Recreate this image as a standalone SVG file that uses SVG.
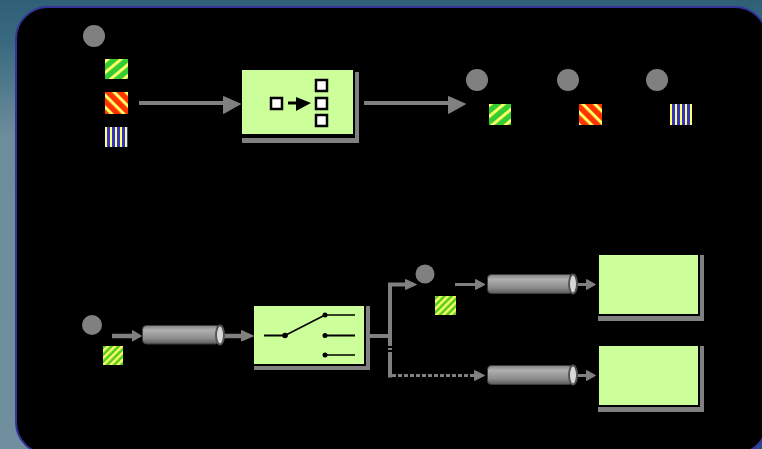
<svg xmlns="http://www.w3.org/2000/svg" width="762" height="449" viewBox="0 0 762 449">
<style>
.shadow{fill:#808080}
.box{fill:#ccff99}
.dot{fill:#808080}
.cable{fill:none;stroke:#808080;stroke-width:4}
.thin{fill:none;stroke:#808080;stroke-width:3}
.wide{fill:none;stroke:#808080;stroke-width:4.500}
.head{fill:#808080;stroke:#808080;stroke-width:1;stroke-linejoin:round}
.ink{fill:none;stroke:#000;stroke-width:1.500}
.inkdot{fill:#000}
.cell{fill:#fff;stroke:#000;stroke-width:2.500}
.tube{fill:url(#tube);stroke:#3c3c3c;stroke-width:1}
.cap{fill:#d8d8d8;stroke:#555;stroke-width:2}
</style>
<defs>
<linearGradient id="bg" x1="0" y1="0" x2="0" y2="1"><stop offset="0" stop-color="#2f6078"/><stop offset="0.1" stop-color="#3a6a80"/><stop offset="0.3" stop-color="#6d8c9c"/><stop offset="1" stop-color="#6f8f9f"/></linearGradient>
<linearGradient id="tube" x1="0" y1="0" x2="0" y2="1"><stop offset="0" stop-color="#808080"/><stop offset="0.25" stop-color="#b0b0b0"/><stop offset="0.7" stop-color="#8c8c8c"/><stop offset="1" stop-color="#5a5a5a"/></linearGradient>
<pattern id="green" width="8.500" height="8.500" patternUnits="userSpaceOnUse" patternTransform="rotate(-40 105 59)"><rect width="8.500" height="8.500" fill="#33cc33"/><rect width="8.500" height="3" fill="#ffff66"/></pattern>
<pattern id="red" width="8.500" height="8.500" patternUnits="userSpaceOnUse" patternTransform="rotate(45)"><rect width="8.500" height="8.500" fill="#ff3300"/><rect width="8.500" height="3" fill="#ffff66"/></pattern>
<pattern id="blue" width="5" height="5" patternUnits="userSpaceOnUse"><rect width="5" height="5" fill="#3333cc"/><rect width="2" height="5" fill="#ffff66"/></pattern>
<pattern id="fine" width="5" height="5" patternUnits="userSpaceOnUse" patternTransform="rotate(-45)"><rect width="5" height="5" fill="#55cc22"/><rect width="5" height="2.400" fill="#ffff66"/></pattern>
</defs>
<rect width="762" height="449" fill="url(#bg)"/>
<rect x="740" y="425" width="22" height="24" fill="#2f4a8c"/>
<rect x="16" y="7" width="751" height="447" rx="32" ry="32" fill="#000" stroke="#333399" stroke-width="2"/>
<g id="connectors">
<path class="cable" d="M139 103H226"/><path class="head" d="M223.500 96.500L240.500 104L223.500 113.500Z"/>
<path class="cable" d="M364 103H450"/><path class="head" d="M448.500 96.500L465.500 104L448.500 113.500Z"/>
<path class="wide" d="M112 336H134"/><path class="head" d="M132.500 330.500L141.500 336L132.500 341Z"/>
<path class="wide" d="M224 336H244"/><path class="head" d="M241.500 330.500L253.500 336L241.500 341Z"/>
<path class="cable" d="M370 336H390"/>
<path class="cable" d="M390 346V284.500H407"/><path class="head" d="M405.500 279.500L416.500 284.500L405.500 289.500Z"/>
<path class="cable" d="M390 348V350"/>
<path class="cable" d="M390 352V377.500"/>
<path class="thin" stroke-dasharray="4 2" d="M392 375.500H476"/><path class="head" d="M474.500 370.500L484.500 375.500L474.500 380.500Z"/>
<path class="thin" d="M455 284.500H476"/><path class="head" d="M475.500 279.500L485 284.500L475.500 289.500Z"/>
<path class="thin" d="M578 284.500H588"/><path class="head" d="M586.500 279.500L595.500 284.500L586.500 289.500Z"/>
<path class="thin" d="M578 375.500H588"/><path class="head" d="M586.500 370.500L595.500 375.500L586.500 380.500Z"/>
</g>
<g id="msg-in"><circle class="dot" cx="94" cy="36" r="11"/>
<rect x="105" y="59" width="23" height="20" fill="url(#green)"/>
<rect x="105" y="92" width="23" height="22" fill="url(#red)"/>
<rect x="105" y="127" width="23" height="20" fill="url(#blue)"/></g>
<g id="resequencer"><path class="shadow" d="M355 72H359V143H242V138H355Z"/>
<rect class="box" x="242" y="70" width="111" height="64"/>
<rect class="cell" x="271" y="98" width="11" height="11"/>
<rect class="cell" x="316" y="80" width="11" height="11"/>
<rect class="cell" x="316" y="98" width="11" height="11"/>
<rect class="cell" x="316" y="115" width="11" height="11"/>
<path class="ink" style="stroke-width:3" d="M288 103H298"/><path class="inkdot" d="M296 97L311 103L296 111Z"/></g>
<g id="msg-a"><circle class="dot" cx="477" cy="80" r="11"/><rect x="489" y="104" width="22" height="21" fill="url(#green)"/></g>
<g id="msg-b"><circle class="dot" cx="568" cy="80" r="11"/><rect x="579" y="104" width="23" height="21" fill="url(#red)"/></g>
<g id="msg-c"><circle class="dot" cx="657" cy="80" r="11"/><rect x="670" y="104" width="22" height="21" fill="url(#blue)"/></g>
<g id="msg-start"><circle class="dot" cx="92" cy="325" r="10"/><rect x="103" y="346" width="20" height="19" fill="url(#fine)"/></g>
<g id="channel-in"><rect class="tube" x="142.500" y="325.500" width="77" height="18.500" rx="4"/><ellipse class="cap" cx="220" cy="335" rx="4" ry="9.500"/></g>
<g id="router"><path class="shadow" d="M366 306H370V370H254V366H366Z"/>
<rect class="box" x="254" y="306" width="110" height="58"/>
<path class="ink" style="stroke-width:2" d="M264 335.500H285"/><path class="ink" d="M285 335.500L325 315"/><path class="ink" d="M325 315H355"/><path class="ink" style="stroke-width:2" d="M325 335.500H355"/><path class="ink" d="M325 355H355"/>
<circle class="inkdot" cx="285" cy="335.500" r="2.800"/><circle class="inkdot" cx="325" cy="315" r="2.500"/><circle class="inkdot" cx="325" cy="335.500" r="2.500"/><circle class="inkdot" cx="325" cy="355" r="2.500"/></g>
<g id="msg-filtered"><circle class="dot" cx="425" cy="274" r="9.500"/><rect x="435" y="296" width="21" height="19" fill="url(#fine)"/></g>
<g id="channel-top"><rect class="tube" x="487.500" y="274.500" width="85" height="19" rx="4"/><ellipse class="cap" cx="573" cy="284" rx="4" ry="9.500"/></g>
<g id="channel-bottom"><rect class="tube" x="487.500" y="365.500" width="85" height="19" rx="4"/><ellipse class="cap" cx="573" cy="375" rx="4" ry="9.500"/></g>
<g id="consumer-top"><path class="shadow" d="M700 255H704V321H598V316H700Z"/><rect class="box" x="599" y="255" width="99" height="59"/></g>
<g id="consumer-bottom"><path class="shadow" d="M700 346H704V412H598V407H700Z"/><rect class="box" x="599" y="346" width="99" height="59"/></g>
</svg>
